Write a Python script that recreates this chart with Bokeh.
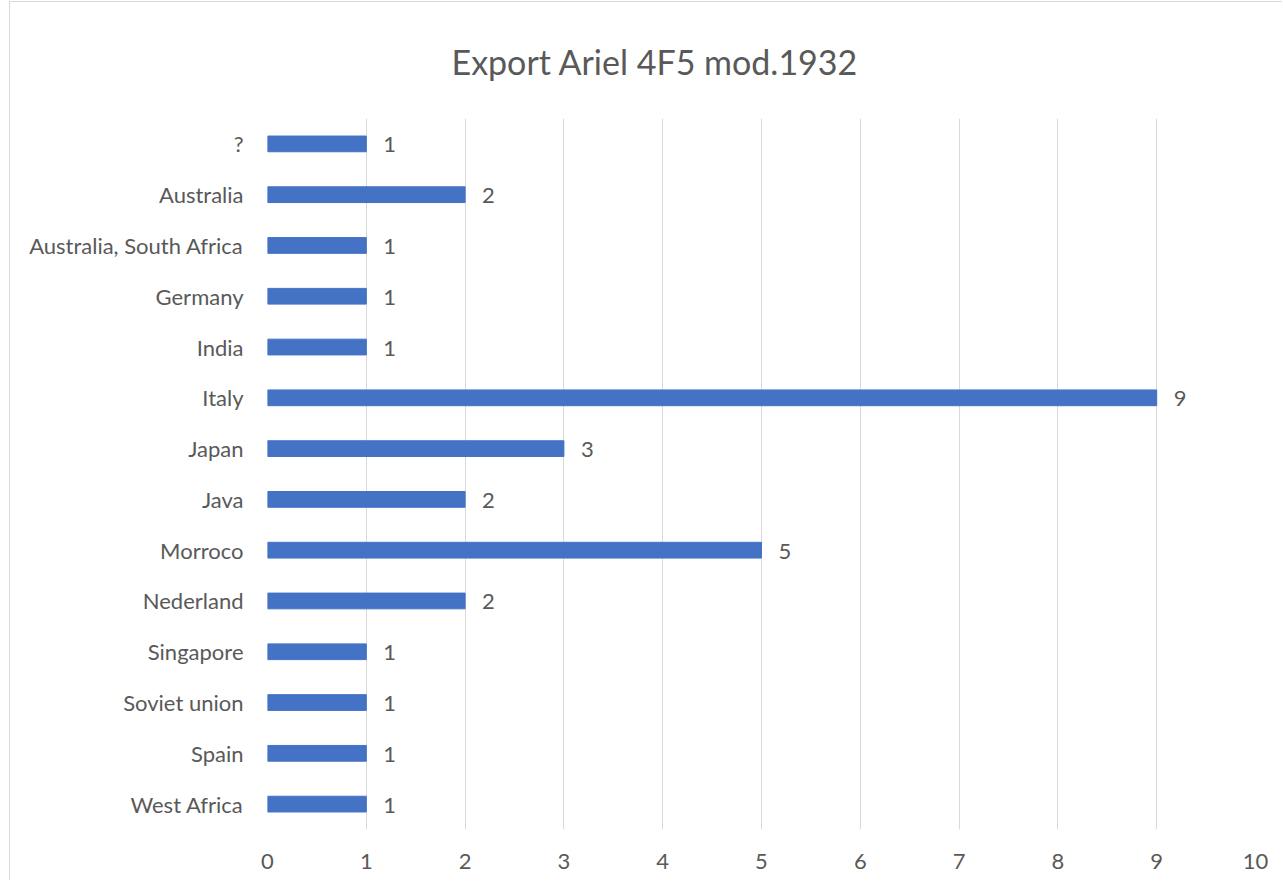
from bokeh.plotting import figure
from bokeh.models import FactorRange, Range1d, ColumnDataSource, FixedTicker
from bokeh.core.properties import value
from bokeh.embed import file_html
from bokeh.resources import INLINE

countries = ["?", "Australia", "Australia, South Africa", "Germany", "India", "Italy",
             "Japan", "Java", "Morroco", "Nederland", "Singapore", "Soviet union",
             "Spain", "West Africa"]
counts = [1, 2, 1, 1, 1, 9, 3, 2, 5, 2, 1, 1, 1, 1]
x_ticks = list(range(0, 11))
title_text = "Export Ariel 4F5 mod.1932"

FONT = "Lato"
TXT = "#595959"
BAR = "#4472C4"
GRID = "#D9D9D9"

src = ColumnDataSource(dict(country=countries, count=counts,
                            label=[str(c) for c in counts]))

p = figure(width=1273, height=879, title=title_text,
           y_range=FactorRange(factors=countries[::-1], range_padding=0),
           x_range=Range1d(0, 10),
           output_backend="svg", toolbar_location=None,
           min_border_left=257, min_border_right=28,
           min_border_top=109, min_border_bottom=52)

p.outline_line_color = None
p.background_fill_color = "white"
p.border_fill_color = "white"

p.title.align = "left"
p.title.offset = 184
p.title.text_font = FONT
p.title.text_font_size = "34px"
p.title.text_font_style = "normal"
p.title.text_color = TXT
p.title.standoff = 73

p.hbar(y="country", left=0, right="count", height=0.31, color=BAR, source=src)
p.text(x="count", y="country", text="label", x_offset=17, y_offset=1,
       text_align="left", text_baseline="middle",
       text_font=value(FONT), text_font_size="22px", text_color=TXT, source=src)

p.xaxis.ticker = FixedTicker(ticks=x_ticks)
for ax in (p.xaxis[0], p.yaxis[0]):
    ax.axis_line_color = None
    ax.major_tick_line_color = None
    ax.minor_tick_line_color = None
    ax.major_label_text_font = FONT
    ax.major_label_text_font_size = "22px"
    ax.major_label_text_color = TXT
p.xaxis.major_label_standoff = 18
p.yaxis.major_label_standoff = 18

p.xgrid.grid_line_color = GRID
p.xgrid.grid_line_width = 1
p.ygrid.grid_line_color = None

p.styles = {"border-left": "1px solid #D9D9D9", "border-top": "1px solid #D9D9D9",
            "margin-left": "9px", "margin-top": "1px"}

open("out.html", "w").write(file_html(p, INLINE))
